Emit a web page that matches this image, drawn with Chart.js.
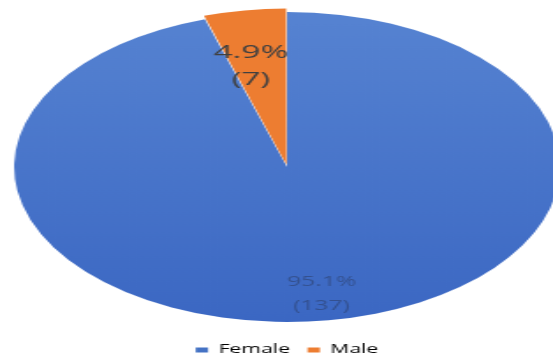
<!DOCTYPE html>
<html>
<head>
<meta charset="utf-8">
<script src="https://cdn.jsdelivr.net/npm/chart.js@4/dist/chart.umd.min.js"></script>
<style>
  html, body { margin: 0; padding: 0; background: #fff; overflow: hidden; }
  /* the original picture is stretched sideways, so the pie becomes an ellipse */
  #wrap { width: 326px; height: 366px; transform: scaleX(1.761); transform-origin: 0 0; }
</style>
</head>
<body>
<div id="wrap"><canvas id="myChart"></canvas></div>
<script>
const labels = ['Female', 'Male'];
const counts = [137, 7];
const percents = ['95.1%', '4.9%'];
const colors = ['#4472C4', '#ED7D31'];

// draws "xx.x% (n)" inside each slice
const sliceLabels = {
  id: 'sliceLabels',
  afterDatasetsDraw(chart) {
    const ctx = chart.ctx;
    const arcs = chart.getDatasetMeta(0).data;
    arcs.forEach((arc, i) => {
      const mid = (arc.startAngle + arc.endAngle) / 2;
      const frac = i === 0 ? 0.83 : 0.66;
      const size = i === 0 ? 14 : 19;
      const gap = i === 0 ? 0.85 : 0.7;
      const nudge = i === 0 ? 0 : -5;
      const x = arc.x + Math.cos(mid) * arc.outerRadius * frac + nudge;
      const y = arc.y + Math.sin(mid) * arc.outerRadius * frac;
      ctx.save();
      ctx.font = size + 'px "Open Sans", sans-serif';
      ctx.fillStyle = i === 0 ? 'rgba(40,50,80,0.45)' : '#404040';
      ctx.textAlign = 'center';
      ctx.textBaseline = 'middle';
      ctx.fillText(percents[i], x, y - size * gap);
      ctx.fillText('(' + counts[i] + ')', x, y + size * gap);
      ctx.restore();
    });
  }
};

function sliceColor(c) {
  const i = c.dataIndex;
  const area = c.chart.chartArea;
  if (i !== 0 || !area) return colors[i];
  const g = c.chart.ctx.createLinearGradient(0, area.top, 0, area.bottom);
  g.addColorStop(0, '#5784d2');
  g.addColorStop(1, '#3a66c2');
  return g;
}

const config = {
  type: 'pie',
  data: {
    labels: labels,
    datasets: [{
      data: counts,
      backgroundColor: sliceColor,
      borderWidth: 0,
      offset: [0, 8]
    }]
  },
  options: {
    responsive: true,
    maintainAspectRatio: false,
    animation: false,
    radius: 155,
    layout: { padding: 0 },
    plugins: {
      tooltip: { enabled: false },
      legend: {
        position: 'bottom',
        labels: {
          boxWidth: 7,
          boxHeight: 5,
          padding: 10,
          color: '#595959',
          font: { size: 12, family: '"Open Sans", sans-serif' },
          generateLabels: (chart) => labels.map((l, i) => ({
            text: l, fillStyle: colors[i], strokeStyle: colors[i], lineWidth: 0, index: i
          }))
        }
      }
    }
  },
  plugins: [sliceLabels]
};

document.addEventListener('DOMContentLoaded', () => {
  new Chart(document.getElementById('myChart'), config);
});
</script>
</body>
</html>
